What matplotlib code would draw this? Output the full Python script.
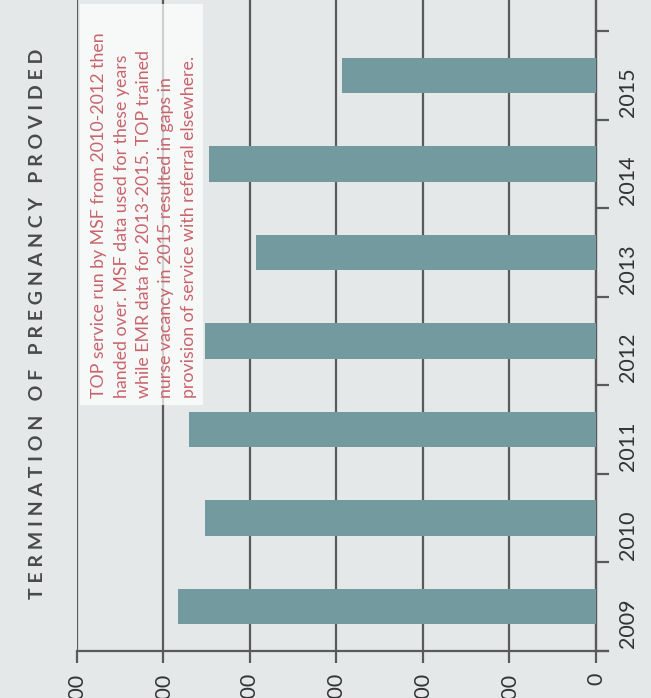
import matplotlib.pyplot as plt
from matplotlib.patches import Rectangle

# TOP procedures per year
years = ['2009', '2010', '2011', '2012', '2013', '2014', '2015']
top_counts = [483, 452, 470, 452, 393, 447, 294]
value_ticks = [0, 100, 200, 300, 400, 500, 600]

note = ("TOP service run by MSF from 2010-2012 then\n"
        "handed over. MSF data used for these years\n"
        "while EMR data for 2013-2015. TOP trained\n"
        "nurse vacancy in 2015 resulted in gaps in\n"
        "provision of service with referral elsewhere.")
title = "TERMINATION OF PREGNANCY PROVIDED"

bg = '#e4e8e9'
bar_color = '#729a9f'
line_color = '#5a5a5a'

plt.rcParams['font.family'] = ['Lato', 'DejaVu Sans']

fig = plt.figure(figsize=(6.51, 6.98), dpi=100, facecolor=bg)
W, H = 651, 698
ax = fig.add_axes([77 / W, 1 - 651 / H, (608 - 77) / W, 651 / H])
ax.set_facecolor(bg)

pos = list(range(len(years)))
ax.barh(pos, top_counts, height=0.4, color=bar_color, zorder=3)

ax.set_xlim(600, -14)
ax.set_ylim(-0.5, 6.85)

# value axis along the bottom, labels turned sideways
ax.set_xticks(value_ticks)
ax.set_xticklabels([str(v) for v in value_ticks])
ax.tick_params(axis='x', length=8.5, width=1.6, color=line_color, labelrotation=90,
               pad=7, labelsize=15.5, labelcolor='#333333')
ax.grid(axis='x', color=line_color, linewidth=1.6, zorder=1)

# year axis on the right, ticks between categories
ax.yaxis.tick_right()
ax.set_yticks([p - 0.5 for p in pos] + [6.5])
ax.set_yticklabels([])
ax.set_yticks(pos, minor=True)
ax.set_yticklabels(years, minor=True)
ax.tick_params(axis='y', which='major', length=9.5, width=1.6, color=line_color)
ax.tick_params(axis='y', which='minor', length=0, pad=16, labelsize=15.5,
               labelrotation=90, labelcolor='#333333')
for lab in ax.yaxis.get_minorticklabels():
    lab.set_verticalalignment('center')

for side in ['left', 'top']:
    ax.spines[side].set_visible(False)
ax.spines['right'].set_position(('data', 0))
ax.spines['right'].set_color(line_color)
ax.spines['right'].set_linewidth(1.6)
ax.spines['bottom'].set_color(line_color)
ax.spines['bottom'].set_linewidth(1.6)

# note panel
box = Rectangle((80 / W, 1 - 405 / H), 123 / W, 401 / H, transform=fig.transFigure,
                facecolor='white', alpha=0.72, edgecolor='none', zorder=4)
fig.patches.append(box)
fig.text(144 / W, 1 - 398 / H, note, rotation=90, ha='center', va='bottom',
         multialignment='left', fontsize=12.8, color='#c8646c', linespacing=1.5,
         zorder=5)

spaced_title = '   '.join(' '.join(word) for word in title.split())
fig.text(38 / W, 1 - 324 / H, spaced_title, rotation=90, ha='center', va='center',
         fontsize=14, fontweight='bold', color='#4a4a4a')

fig.savefig('out.png', dpi=100, facecolor=bg)
